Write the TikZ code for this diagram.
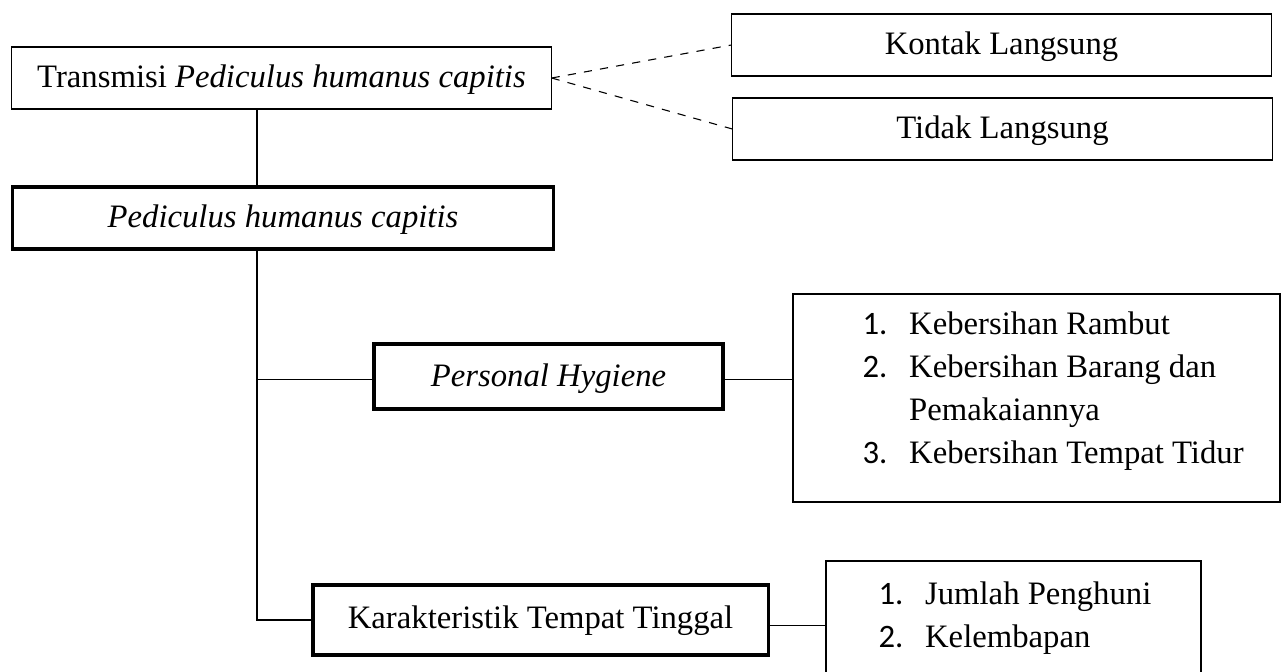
\documentclass[tikz,border=0pt]{standalone}
\usepackage{fontspec}
\setmainfont{Liberation Serif}
\newfontfamily\numfont{Carlito}
\usetikzlibrary{positioning,calc}
\newcommand{\lnum}[1]{{\numfont #1}}
\tikzset{
  topbox/.style={draw, thin, minimum width=6.953cm, minimum height=0.8cm,
                 inner sep=0pt, text height=8.5pt, text depth=1.2pt,
                 font=\fontsize{12pt}{15.8pt}\selectfont},
  mainbox/.style={topbox, very thick},
  subbox/.style={mainbox, minimum height=0.87cm},
  listbox/.style={draw, semithick, anchor=north west, inner xsep=0pt,
                  font=\fontsize{12pt}{15.8pt}\selectfont},
  link/.style={thin, black},
  dashlink/.style={thin, dashed, black}
}
\begin{document}
\begin{tikzpicture}[x=0.0129cm, y=-0.0129cm]
\useasboundingbox (0,0) rectangle (1285,671);
\clip (0,0) rectangle (1285,671);
\node[topbox] (trans) at (281.5,78) {Transmisi \textit{Pediculus humanus capitis}};
\node[topbox] (kontak) at (1001.5,45) {Kontak Langsung};
\node[topbox] (tidak) at (1002.5,129) {Tidak Langsung};
\node[mainbox, minimum width=6.966cm] (pedi) at (283,218) {\textit{Pediculus humanus capitis}};
\node[subbox, minimum width=4.502cm, minimum height=0.839cm] (hyg) at (548.5,376.5) {\textit{Personal Hygiene}};
\node[subbox, minimum width=5.870cm, minimum height=0.903cm, text depth=2.5pt] (kar) at (540.5,620) {Karakteristik Tempat Tinggal};
\node[listbox, inner ysep=0.135cm] (bersih) at (792,293) {%
  \begin{tabular}{@{\hspace{0.9cm}}p{0.6cm}@{}p{4.782cm}@{}}
  \lnum{1.} & Kebersihan Rambut\\
  \lnum{2.} & Kebersihan Barang dan\\
            & Pemakaiannya\\
  \lnum{3.} & Kebersihan Tempat Tidur\rule[-10.3pt]{0pt}{0pt}
  \end{tabular}};
\node[listbox, inner ysep=0.17cm] (rumah) at (825,560) {%
  \begin{tabular}{@{\hspace{0.68cm}}p{0.6cm}@{}p{3.558cm}@{}}
  \lnum{1.} & Jumlah Penghuni\\
  \lnum{2.} & Kelembapan\rule[-23.4pt]{0pt}{0pt}
  \end{tabular}};
\coordinate (trunk) at (257,0);
\draw[dashlink] (trans.east) -- (kontak.west);
\draw[dashlink] (trans.east) -- (tidak.west);
\draw[link] (trans.south -| trunk) -- (pedi.north -| trunk);
\draw[link] (pedi.south -| trunk) |- (kar.west);
\draw[link] ([yshift=-0.04cm]hyg.west -| trunk) -- ([yshift=-0.04cm]hyg.west);
\draw[link] ([yshift=-0.04cm]hyg.east) -- ([yshift=-0.04cm]hyg.east -| bersih.west);
\draw[link] ([yshift=-0.07cm]kar.east) -- ([yshift=-0.07cm]kar.east -| rumah.west);
\end{tikzpicture}
\end{document}
